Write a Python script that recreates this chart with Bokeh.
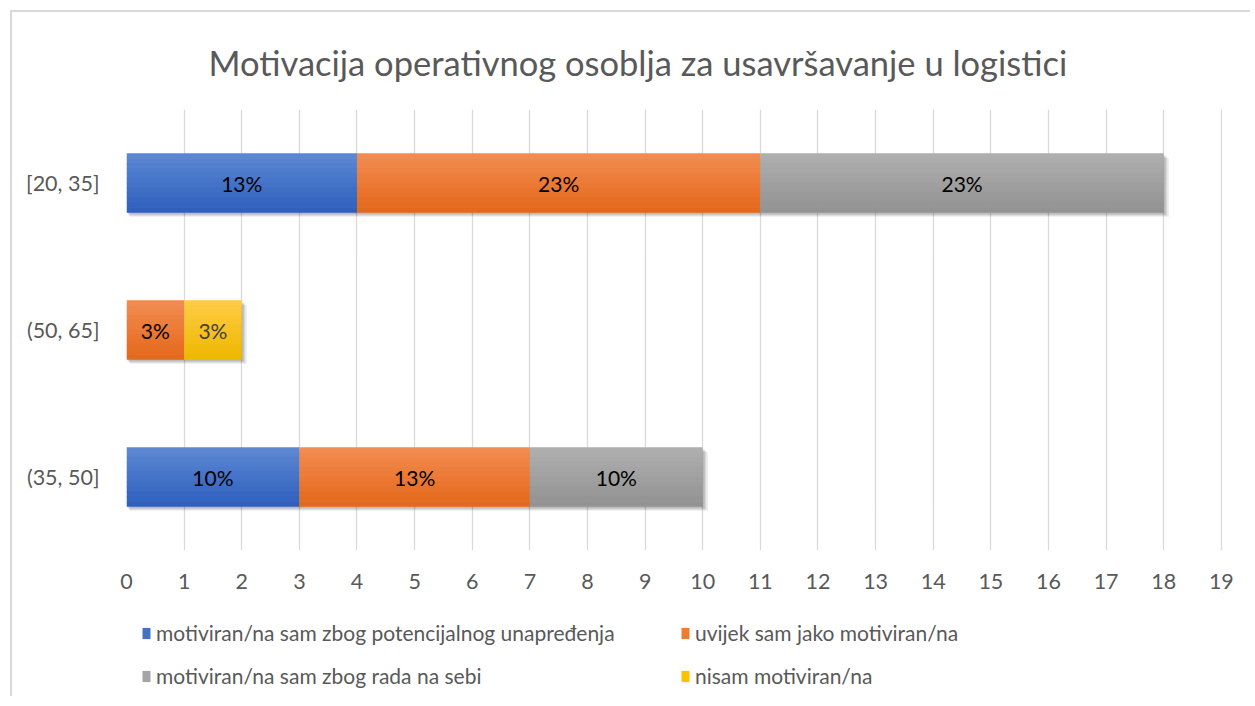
from bokeh.plotting import figure
from bokeh.models import FactorRange, Range1d, Legend, LegendItem, ColumnDataSource, FixedTicker
from bokeh.layouts import column
from bokeh.transform import dodge
from bokeh.core.properties import value
from bokeh.embed import file_html
from bokeh.resources import INLINE

# ---------------- data ----------------
categories = ["[20, 35]", "(50, 65]", "(35, 50]"]          # top to bottom
series_names = [
    "motiviran/na sam zbog potencijalnog unapređenja",
    "uvijek sam jako motiviran/na",
    "motiviran/na sam zbog rada na sebi",
    "nisam motiviran/na",
]
s_potencijal = [4, 0, 3]
s_uvijek = [7, 1, 4]
s_rad = [7, 0, 3]
s_nisam = [0, 1, 0]
series_values = [s_potencijal, s_uvijek, s_rad, s_nisam]
x_ticks = list(range(0, 20))

# ---------------- styling ----------------
FONT = "Lato"
GREY_TXT = "#595959"
grad_top = ["#5B87D2", "#F28B50", "#AEAEAE", "#FFCB45"]
grad_bot = ["#2F60BE", "#E5691C", "#939393", "#EEB800"]
mid_col = ["#4472C4", "#ED7D31", "#A5A5A5", "#FFC000"]
label_cols = ["#000000", "#000000", "#000000", "#404040"]

BAR_H = 0.4
N_STRIPS = 12

p = figure(
    width=1240, height=582,
    y_range=FactorRange(factors=list(reversed(categories)), range_padding=0),
    x_range=Range1d(0, 19.02),
    output_backend="svg", toolbar_location=None,
    min_border_left=114, min_border_right=30, min_border_top=96, min_border_bottom=44,
)
p.styles = {"border-top": "2px solid #D9D9D9", "border-left": "2px solid #D9D9D9"}
p.outline_line_color = None
p.background_fill_color = "white"
p.border_fill_color = "white"

# title
p.title.text = "Motivacija operativnog osoblja za usavršavanje u logistici"
p.title.align = "left"
p.title.offset = 82
p.title.text_font = FONT
p.title.text_font_size = "34.5px"
p.title.text_font_style = "normal"
p.title.text_color = GREY_TXT
p.title.standoff = 54

# axes
p.xaxis.ticker = FixedTicker(ticks=x_ticks)
for ax in (p.xaxis[0], p.yaxis[0]):
    ax.axis_line_color = None
    ax.major_tick_line_color = None
    ax.minor_tick_line_color = None
    ax.major_label_text_font = FONT
    ax.major_label_text_font_size = "21.5px"
    ax.major_label_text_color = GREY_TXT
p.xaxis.major_label_standoff = 17
p.yaxis.major_label_standoff = 21
p.xgrid.ticker = FixedTicker(ticks=x_ticks)
p.xgrid.grid_line_color = "#D9D9D9"
p.xgrid.grid_line_width = 1.3
p.ygrid.grid_line_color = None


def hexmix(a, b, t):
    a = [int(a[i:i + 2], 16) for i in (1, 3, 5)]
    b = [int(b[i:i + 2], 16) for i in (1, 3, 5)]
    return "#%02x%02x%02x" % tuple(round(a[k] + (b[k] - a[k]) * t) for k in range(3))


# totals and shadow
totals = [sum(vals[i] for vals in series_values) for i in range(len(categories))]
grand_total = sum(totals)
for dx0, dx1, dy, alpha in [(0.06, 0.09, -0.03, 0.07), (0.04, 0.06, -0.022, 0.09), (0.02, 0.035, -0.014, 0.12)]:
    src_sh = ColumnDataSource(dict(cat=categories, left=[dx0] * 3, right=[t + dx1 for t in totals]))
    p.hbar(y=dodge("cat", dy, range=p.y_range), left="left", right="right", height=BAR_H,
           source=src_sh, fill_color="black", fill_alpha=alpha, line_color=None)

# stacked bars with vertical gradient
cum = [0] * len(categories)
label_x, label_y, label_t, label_c = [], [], [], []
for si, vals in enumerate(series_values):
    cats_s, lefts, rights = [], [], []
    for ci, v in enumerate(vals):
        if v > 0:
            cats_s.append(categories[ci])
            lefts.append(cum[ci])
            rights.append(cum[ci] + v)
            label_x.append(cum[ci] + v / 2)
            label_y.append(categories[ci])
            label_t.append(f"{round(v / grand_total * 100)}%")
            label_c.append(label_cols[si])
            cum[ci] += v
    src = ColumnDataSource(dict(cat=cats_s, left=lefts, right=rights))
    h = BAR_H / N_STRIPS
    for k in range(N_STRIPS):
        off = BAR_H / 2 - (k + 0.5) * h
        col = hexmix(grad_top[si], grad_bot[si], k / (N_STRIPS - 1))
        p.hbar(y=dodge("cat", off, range=p.y_range), left="left", right="right",
               height=h * 1.15, source=src, fill_color=col, line_color=None)

lab_src = ColumnDataSource(dict(x=label_x, y=label_y, t=label_t, c=label_c))
p.text(x="x", y="y", text="t", source=lab_src, text_align="center", text_baseline="middle",
       text_font=value(FONT), text_font_size="21px", text_color="c")

# ---------------- legend strip (separate figure below) ----------------
pl = figure(width=1240, height=104, x_range=Range1d(0, 1), y_range=Range1d(0, 1),
            output_backend="svg", toolbar_location=None, x_axis_type=None, y_axis_type=None,
            min_border_left=0, min_border_right=0, min_border_top=0, min_border_bottom=0)
pl.styles = {"border-left": "2px solid #D9D9D9"}
pl.outline_line_color = None
pl.grid.grid_line_color = None
pl.background_fill_color = "white"
pl.border_fill_color = "white"

# legend swatches: one tiny bar per series, placed far outside the strip's visible range
leg_renderers = []
for si in range(len(series_names)):
    r = pl.hbar(y=[50], left=[50], right=[51], height=0.001, fill_color=mid_col[si], line_color=None)
    leg_renderers.append(r)

rows = [[0, 1], [2, 3]]
row_y = [51, 8]
for ri, rw in enumerate(rows):
    items = [LegendItem(label=series_names[i], renderers=[leg_renderers[i]]) for i in rw]
    lg = Legend(items=items, orientation="horizontal", location=(15, row_y[ri]),
                glyph_width=10, glyph_height=14, label_standoff=5, label_width=524, spacing=0,
                padding=0, margin=0, border_line_color=None, background_fill_alpha=0,
                label_text_font=FONT, label_text_font_size="21px", label_text_color=GREY_TXT)
    pl.add_layout(lg, "center")

layout = column(p, pl, spacing=0, margin=(10, 0, 0, 10))
open("out.html", "w").write(file_html(layout, INLINE))
